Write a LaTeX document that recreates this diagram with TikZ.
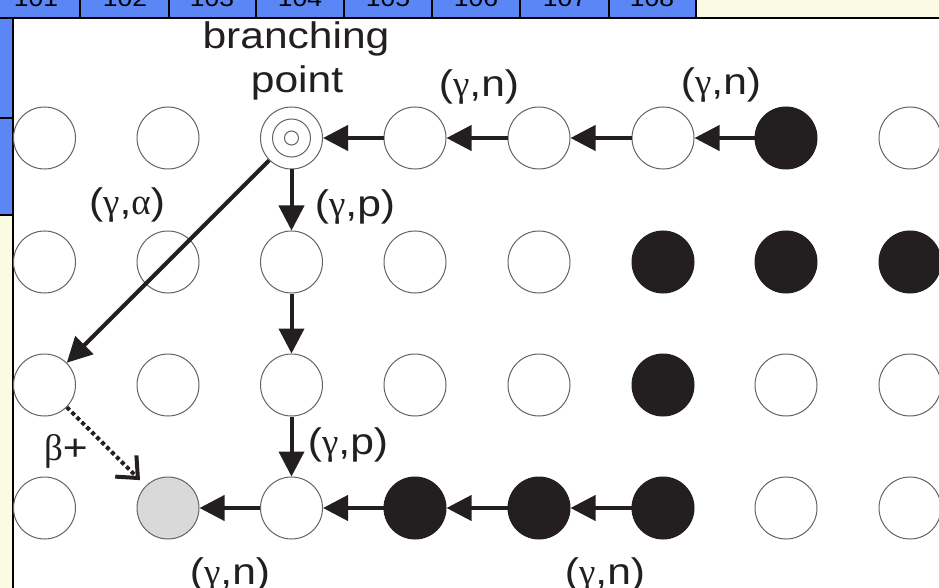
\documentclass[tikz,border=0pt]{standalone}
\usepackage{fontspec}
\setmainfont{Liberation Sans}[FakeStretch=1.15]
\newfontfamily\grk{Liberation Serif}
\usetikzlibrary{arrows.meta}
\definecolor{hdrblue}{RGB}{90,135,245}
\definecolor{paleyel}{RGB}{250,251,226}
\definecolor{nucblack}{RGB}{35,31,32}
\definecolor{nucgrey}{RGB}{217,217,217}
\definecolor{ringgrey}{RGB}{100,100,100}
\tikzset{
  nuc/.style={circle, draw=ringgrey, line width=1bp, minimum size=62bp, inner sep=0pt, fill=white},
  stab/.style={nuc, fill=nucblack, draw=nucblack},
  decayed/.style={nuc, fill=nucgrey},
  ring/.style={circle, draw=ringgrey, line width=1bp, inner sep=0pt},
  arr/.style={line width=4bp, draw=nucblack, -{Triangle[length=25bp,width=25bp]}},
  dotarr/.style={line width=4bp, draw=nucblack, dash pattern=on 4bp off 3bp,
    -{Straight Barb[length=17bp,width=30bp,line width=4bp]}, shorten >=8bp},
  lbl/.style={font=\fontsize{37bp}{44bp}\selectfont, inner sep=0pt, text=nucblack, anchor=base},
  hdr/.style={font=\fontsize{23bp}{26bp}\selectfont, inner sep=0pt, anchor=base},
  rule/.style={line width=2bp, draw=black},
}
\begin{document}
\begin{tikzpicture}[x=1bp,y=-1bp]
\useasboundingbox (0,0) rectangle (939,588);
\clip (0,0) rectangle (939,588);
\fill[white] (0,0) rectangle (939,588);
% header strip and left strip
\fill[paleyel] (696,0) rectangle (939,18);
\fill[hdrblue] (-10,0) rectangle (696,18);
\fill[hdrblue] (0,18) rectangle (13,215);
\fill[paleyel] (0,215) rectangle (13,588);
\foreach \n/\x in {101/36,102/125,103/212,104/300,105/388,106/476,107/565,108/652}
  \node[hdr] (h\n) at (\x,7) {\n};
\foreach \x in {80,169,256,344,432,520,609,696}
  \draw[rule] (\x,-2) -- (\x,18);
\draw[rule] (0,18) -- (939,18);
\draw[rule] (13,18) -- (13,590);
\draw[rule] (0,118) -- (13,118);
\draw[rule] (0,215) -- (13,215);
% row 1
\node[nuc] (c11) at (44.5,138) {};
\node[nuc] (c12) at (168,138) {};
\node[nuc] (bp) at (291.5,138) {};
\node[ring, minimum size=38bp] (bpmid) at (291.5,138) {};
\node[ring, minimum size=14bp] (bpin) at (291.5,138) {};
\node[nuc] (c14) at (415,138) {};
\node[nuc] (c15) at (539,138) {};
\node[nuc] (c16) at (663,138) {};
\node[stab] (c17) at (786,138) {};
\node[nuc] (c18) at (910,138) {};
% row 2
\node[nuc] (c21) at (44.5,262) {};
\node[nuc] (c22) at (168,262) {};
\node[nuc] (c23) at (291.5,262) {};
\node[nuc] (c24) at (415,262) {};
\node[nuc] (c25) at (539,262) {};
\node[stab] (c26) at (663,262) {};
\node[stab] (c27) at (786,262) {};
\node[stab] (c28) at (910,262) {};
% row 3
\node[nuc] (c31) at (44.5,385) {};
\node[nuc] (c32) at (168,385) {};
\node[nuc] (c33) at (291.5,385) {};
\node[nuc] (c34) at (415,385) {};
\node[nuc] (c35) at (539,385) {};
\node[stab] (c36) at (663,385) {};
\node[nuc] (c37) at (786,385) {};
\node[nuc] (c38) at (910,385) {};
% row 4
\node[nuc] (c41) at (44.5,508) {};
\node[decayed] (c42) at (168,508) {};
\node[nuc] (c43) at (291.5,508) {};
\node[stab] (c44) at (415,508) {};
\node[stab] (c45) at (539,508) {};
\node[stab] (c46) at (663,508) {};
\node[nuc] (c47) at (786,508) {};
\node[nuc] (c48) at (910,508) {};
% arrows
\draw[arr] (c17) -- (c16);
\draw[arr] (c16) -- (c15);
\draw[arr] (c15) -- (c14);
\draw[arr] (c14) -- (bp);
\draw[arr] (bp) -- (c23);
\draw[arr] (c23) -- (c33);
\draw[arr] (c33) -- (c43);
\draw[arr] (bp) -- (c31);
\draw[arr] (c46) -- (c45);
\draw[arr] (c45) -- (c44);
\draw[arr] (c44) -- (c43);
\draw[arr] (c43) -- (c42);
\draw[dotarr] (c31) -- (c42);
% labels
\node[lbl] (tbranch) at (296,49) {branching};
\node[lbl] (tpoint) at (297,93) {point};
\node[lbl] (lgn1) at (479,97) {({\grk γ},n)};
\node[lbl] (lgn2) at (721,95) {({\grk γ},n)};
\node[lbl] (lgp1) at (355,217) {({\grk γ},p)};
\node[lbl] (lgp2) at (348,454) {({\grk γ},p)};
\node[lbl] (lga) at (127,215) {({\grk γ},{\grk α})};
\node[lbl] (lbeta) at (66,460) {{\grk β}+};
\node[lbl] (lgn3) at (230,584) {({\grk γ},n)};
\node[lbl] (lgn4) at (605,584) {({\grk γ},n)};
\end{tikzpicture}
\end{document}
